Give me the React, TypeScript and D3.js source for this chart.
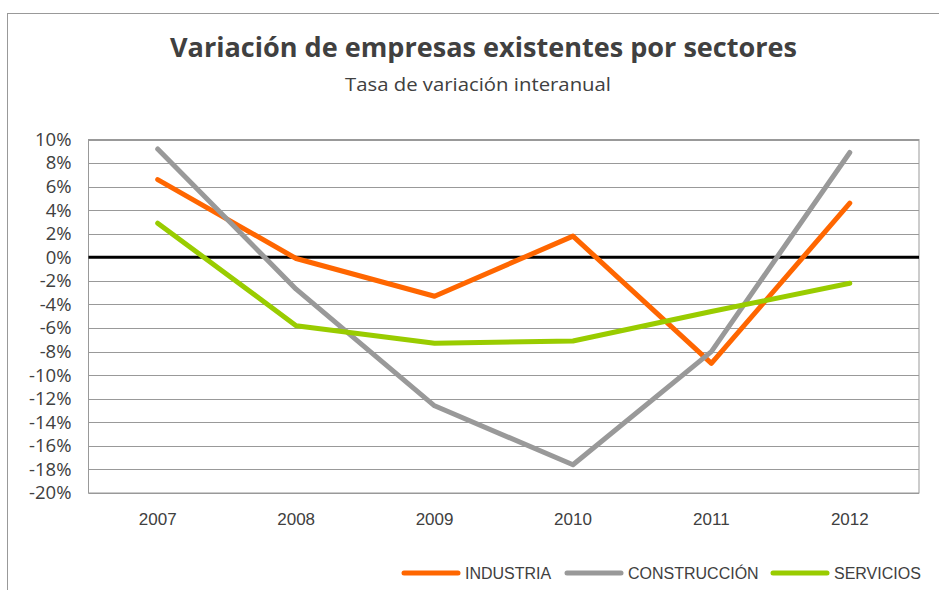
import { useEffect, useRef } from "react";
import * as d3 from "d3";

const years = ["2007", "2008", "2009", "2010", "2011", "2012"];
const industria = [6.6, -0.1, -3.3, 1.8, -9.0, 4.6];
const construccion = [9.2, -2.7, -12.6, -17.6, -8.0, 8.9];
const servicios = [2.9, -5.8, -7.3, -7.1, -4.6, -2.2];
const yTicks = [10, 8, 6, 4, 2, 0, -2, -4, -6, -8, -10, -12, -14, -16, -18, -20];

const series = [
  { name: "INDUSTRIA", values: industria, color: "#ff6600" },
  { name: "CONSTRUCCIÓN", values: construccion, color: "#999999" },
  { name: "SERVICIOS", values: servicios, color: "#99cc00" },
];

const width = 939;
const height = 590;
const marginLeft = 88.5;
const marginRight = 20;
const marginTop = 139.5;
const marginBottom = 97;

export default function App() {
  const xAxis = useRef<SVGGElement>(null);
  const yAxis = useRef<SVGGElement>(null);

  const xScale = d3
    .scaleBand()
    .domain(years)
    .range([marginLeft, width - marginRight]);
  const yScale = d3
    .scaleLinear()
    .domain([-20, 10])
    .range([height - marginBottom, marginTop]);

  const line = d3
    .line<number>()
    .x((d, i) => (xScale(years[i]) ?? 0) + xScale.bandwidth() / 2)
    .y((d) => yScale(d));

  useEffect(() => {
    const g = d3
      .select(xAxis.current)
      .attr("transform", `translate(0,${height - marginBottom})`)
      .call(d3.axisBottom(xScale).tickSize(0).tickPadding(20));
    g.select(".domain").remove();
    g.selectAll("text")
      .attr("font-family", "'Liberation Sans', Arial, sans-serif")
      .attr("font-size", 17)
      .attr("fill", "#404040");
  }, []);

  useEffect(() => {
    const g = d3
      .select(yAxis.current)
      .attr("transform", `translate(${marginLeft},0)`)
      .call(
        d3
          .axisLeft(yScale)
          .tickValues(yTicks)
          .tickSize(0)
          .tickPadding(17)
          .tickFormat((d) => `${d}%`)
      );
    g.select(".domain").remove();
    g.selectAll("text")
      .attr("font-family", "'Open Sans', sans-serif")
      .attr("font-size", 18.5)
      .attr("fill", "#404040");
  }, []);

  const legendItems = [
    { x: 404, tx: 465 },
    { x: 567, tx: 628 },
    { x: 773, tx: 834 },
  ];

  return (
    <svg
      width={width}
      height={height}
      style={{ position: "absolute", left: 0, top: 0, background: "#fff" }}
    >
      <rect x={7.5} y={13.5} width={width} height={height} fill="#fff" stroke="#999" />
      <text
        x={483.5}
        y={57}
        textAnchor="middle"
        fontFamily="'Open Sans', sans-serif"
        fontWeight="bold"
        fontSize={26}
        fill="#404040"
        textLength={627}
        lengthAdjust="spacingAndGlyphs"
      >
        Variación de empresas existentes por sectores
      </text>
      <text
        x={478}
        y={91}
        textAnchor="middle"
        fontFamily="'Open Sans', sans-serif"
        fontSize={18}
        fill="#404040"
        textLength={266}
        lengthAdjust="spacingAndGlyphs"
      >
        Tasa de variación interanual
      </text>

      <g stroke="#999" strokeWidth={1}>
        {yTicks.map((t) => (
          <line
            key={t}
            x1={marginLeft}
            x2={width - marginRight}
            y1={Math.round(yScale(t)) + 0.5}
            y2={Math.round(yScale(t)) + 0.5}
          />
        ))}
      </g>
      <rect
        x={marginLeft}
        y={marginTop}
        width={width - marginRight - marginLeft}
        height={height - marginBottom - marginTop}
        fill="none"
        stroke="#999"
      />
      <line
        x1={marginLeft}
        x2={width - marginRight}
        y1={yScale(0)}
        y2={yScale(0)}
        stroke="#000"
        strokeWidth={3}
      />

      {series.map((s) => (
        <path
          key={s.name}
          d={line(s.values) ?? ""}
          fill="none"
          stroke={s.color}
          strokeWidth={5}
          strokeLinecap="round"
          strokeLinejoin="round"
        />
      ))}

      <g ref={xAxis}></g>
      <g ref={yAxis}></g>

      <g>
        {series.map((s, i) => (
          <g key={s.name}>
            <line
              x1={legendItems[i].x}
              x2={legendItems[i].x + 54}
              y1={573}
              y2={573}
              stroke={s.color}
              strokeWidth={5}
              strokeLinecap="round"
            />
            <text
              x={legendItems[i].tx}
              y={579}
              fontFamily="'Liberation Sans', Arial, sans-serif"
              fontSize={16}
              fill="#404040"
            >
              {s.name}
            </text>
          </g>
        ))}
      </g>
    </svg>
  );
}
